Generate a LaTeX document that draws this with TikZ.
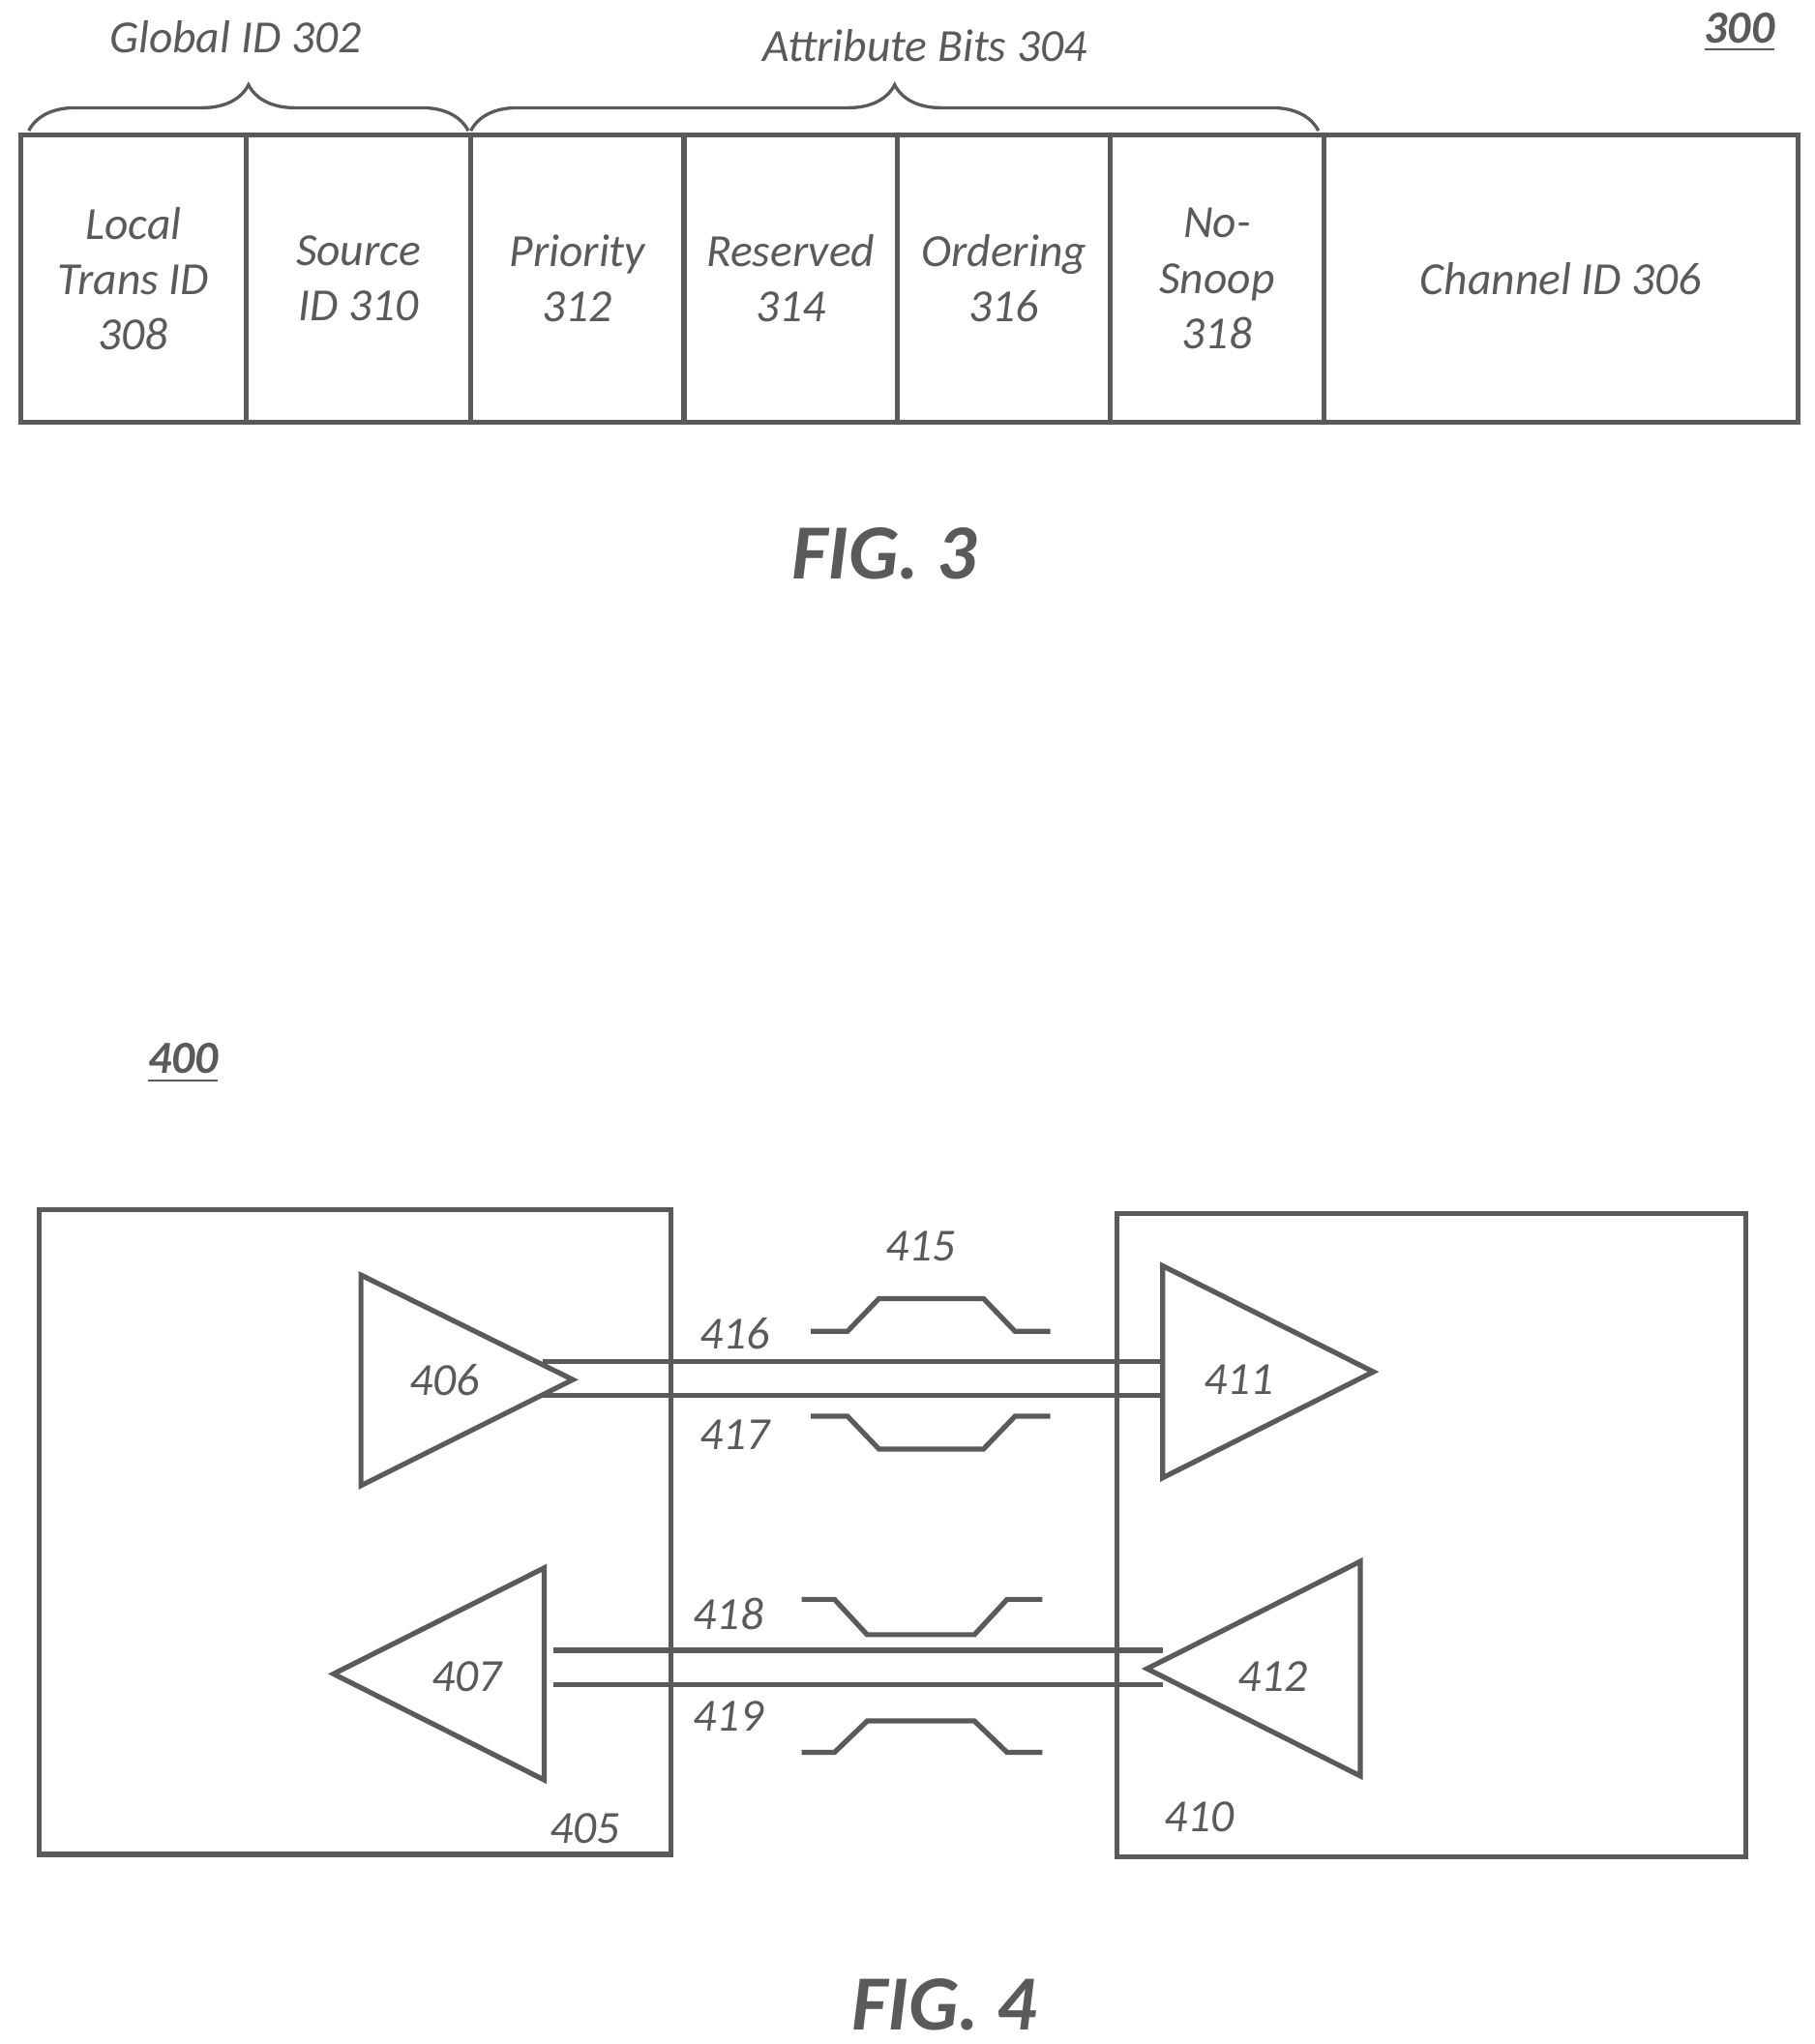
\documentclass[tikz,border=0pt]{standalone}
\usepackage{fontspec}
\setmainfont{Carlito}
\usetikzlibrary{decorations.pathreplacing}
\definecolor{linegray}{RGB}{90,90,90}
\tikzset{
  box/.style = {draw=linegray, line width=1.1pt},
  lbl/.style = {text=linegray, font=\fontsize{10}{12}\selectfont\itshape, align=center},
  fig/.style = {text=linegray, font=\fontsize{17}{20}\selectfont\bfseries\itshape},
  brc/.style = {draw=linegray, line width=0.7pt, decorate, decoration={brace, amplitude=10pt}},
  wire/.style = {draw=linegray, line width=1.1pt}
}
\begin{document}
\begin{tikzpicture}[x=0.01cm, y=-0.01cm]
  \useasboundingbox (0,0) rectangle (1387,1563);

  % FIG. 3 fields
  \foreach \name/\xa/\xb/\txt in {f308/16/188/{Local\\Trans ID\\308}, f310/188/360/{Source\\ID 310},
      f312/360/523/{Priority\\312}, f314/523/686/{Reserved\\314}, f316/686/849/{Ordering\\316},
      f318/849/1012/{No-\\Snoop\\318}, f306/1012/1375/{Channel ID 306}}
    \draw[box] (\xa,103) rectangle (\xb,323) node[lbl, midway] (\name) {\txt};

  \draw[brc] (22,100) -- (358,100) coordinate[midway] (gmid);
  \draw[brc] (360,100) -- (1008,100) coordinate[midway] (amid);
  \node[lbl] (gid) at (180,28) {Global ID 302};
  \node[lbl] (att) at (707,35) {Attribute Bits 304};
  \node[text=linegray, font=\fontsize{10}{12}\selectfont\bfseries\itshape] (n300) at (1330,25) {\underline{300}};
  \node[fig] (fig3) at (676,423) {FIG. 3};

  % FIG. 4
  \node[text=linegray, font=\fontsize{10}{12}\selectfont\bfseries\itshape] (n400) at (140,813) {\underline{400}};
  \draw[box] (30,925) rectangle (513,1418);
  \draw[box] (854,928) rectangle (1335,1420);
  \node[lbl] (n405) at (447,1398) {405};
  \node[lbl] (n410) at (917,1389) {410};

  % drivers and receivers
  \draw[box] (276,975) -- (438,1055) coordinate (t406) -- (276,1136) -- cycle;
  \draw[box] (889,968) -- (1050,1049) -- (889,1130) -- cycle;
  \draw[box] (416,1199) -- (255,1280) -- (416,1361) -- cycle;
  \draw[box] (1040,1194) -- (877,1276) coordinate (t412) -- (1040,1358) -- cycle;
  \node[lbl] (n406) at (340,1055) {406};
  \node[lbl] (n411) at (947,1055) {411};
  \node[lbl] (n407) at (357,1282) {407};
  \node[lbl] (n412) at (973,1282) {412};

  % differential pairs
  \coordinate (a1) at (415,1041); \coordinate (b1) at (889,1041);
  \coordinate (a2) at (415,1067); \coordinate (b2) at (889,1067);
  \coordinate (a3) at (423,1262); \coordinate (b3) at (889,1262);
  \coordinate (a4) at (423,1288); \coordinate (b4) at (889,1288);
  \draw[wire] (a1) -- (b1);
  \draw[wire] (a2) -- (b2);
  \draw[wire] (a3) -- (b3);
  \draw[wire] (a4) -- (b4);

  % waveforms
  \draw[wire] (620,1018) -- (648,1018) -- (672,993) -- (752,993) -- (776,1018) -- (803,1018);
  \draw[wire] (620,1083) -- (648,1083) -- (672,1108) -- (752,1108) -- (776,1083) -- (803,1083);
  \draw[wire] (613,1223) -- (638,1223) -- (663,1250) -- (745,1250) -- (770,1223) -- (797,1223);
  \draw[wire] (613,1340) -- (638,1340) -- (663,1316) -- (745,1316) -- (770,1340) -- (797,1340);

  \node[lbl] (n415) at (704,953) {415};
  \node[lbl] (n416) at (562,1020) {416};
  \node[lbl] (n417) at (562,1097) {417};
  \node[lbl] (n418) at (557,1234) {418};
  \node[lbl] (n419) at (557,1312) {419};
  \node[fig] (fig4) at (722,1533) {FIG. 4};
\end{tikzpicture}
\end{document}
